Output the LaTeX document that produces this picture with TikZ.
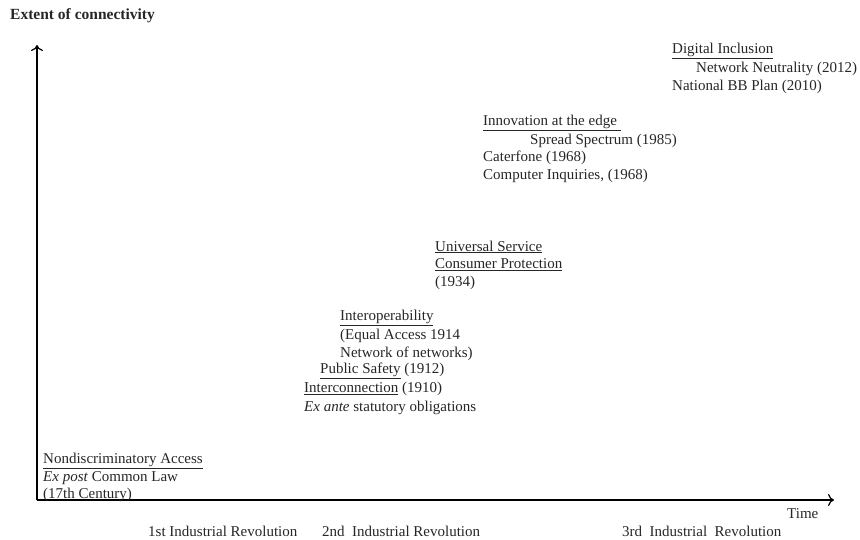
\documentclass[tikz,border=0pt]{standalone}
\usepackage{fontspec}
\setmainfont{Liberation Serif}
\usetikzlibrary{arrows.meta}
\begin{document}
\begin{tikzpicture}[x=1pt,y=-1pt,
  lbl/.style={anchor=west,inner sep=0pt,font=\fontsize{15}{17}\selectfont,text=black!85},
  axis/.style={line width=1.2pt,-{To[length=6pt,width=12pt]}}]
\useasboundingbox (0,0) rectangle (860,539);
\coordinate (O) at (37,500);
\coordinate (ytip) at (37,45);
\coordinate (xtip) at (834,500);
\draw[axis] (O) -- (ytip);
\draw[axis] (O) -- (xtip);
\node[lbl,font=\bfseries\fontsize{15.5}{17}\selectfont] (ylab) at (10,16) {Extent of connectivity};
\node[lbl] (d1) at (672,51) {\underline{Digital Inclusion}};
\node[lbl] (d2) at (696,69) {Network Neutrality (2012)};
\node[lbl] (d3) at (672,87) {National BB Plan (2010)};
\node[lbl] (i1) at (483,123) {\underline{Innovation at the edge\ }};
\node[lbl] (i2) at (530,141) {Spread Spectrum (1985)};
\node[lbl] (i3) at (483,158) {Caterfone (1968)};
\node[lbl] (i4) at (483,176) {Computer Inquiries, (1968)};
\node[lbl] (u1) at (435,247) {\underline{Universal Service}};
\node[lbl] (u2) at (435,265) {\underline{Consumer Protection}};
\node[lbl] (u3) at (435,283) {(1934)};
\node[lbl] (p1) at (340,318) {\underline{Interoperability}};
\node[lbl] (p2) at (340,336) {(Equal Access 1914};
\node[lbl] (p3) at (340,354) {Network of networks)};
\node[lbl] (p4) at (320,371) {\underline{Public Safety} (1912)};
\node[lbl] (p5) at (304,389) {\underline{Interconnection} (1910)};
\node[lbl] (p6) at (304,408) {\textit{Ex ante} statutory obligations};
\node[lbl] (n1) at (43,461) {\underline{Nondiscriminatory Access}};
\node[lbl] (n2) at (43,478) {\textit{Ex post} Common Law};
\node[lbl] (n3) at (43,495) {(17th Century)};
\node[lbl] (time) at (787,514) {Time};
\node[lbl] (r1) at (148,531) {1st Industrial Revolution};
\node[lbl] (r2) at (322,531) {2nd\ \ Industrial Revolution};
\node[lbl] (r3) at (622,531) {3rd\ \ Industrial\ \ Revolution};
\end{tikzpicture}
\end{document}
